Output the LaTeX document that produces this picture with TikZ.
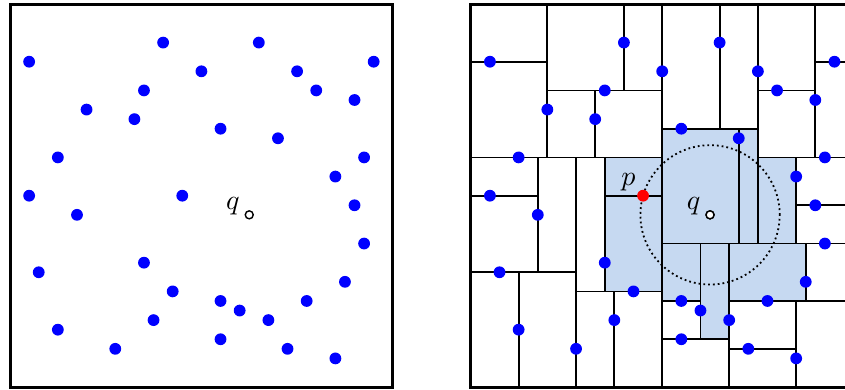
\documentclass[tikz,border=0pt]{standalone}
\usetikzlibrary{calc}
\definecolor{cellblue}{RGB}{198,217,241}
\definecolor{dotblue}{RGB}{0,0,255}
\begin{document}
\begin{tikzpicture}[x=9.57pt,y=-9.57pt,
  frame/.style={line width=3pt},
  cut/.style={line width=1.8pt},
  pt/.style={circle,fill=dotblue,inner sep=0pt,minimum size=11.8pt},
  ppt/.style={circle,fill=red,inner sep=0pt,minimum size=11.8pt},
  qpt/.style={circle,draw=black,fill=white,line width=1.4pt,inner sep=0pt,minimum size=8pt},
  lab/.style={anchor=base east,scale=2.8,inner sep=0pt},
  cell/.style={fill=cellblue},
  ball/.style={line width=1.8pt,dash pattern=on 1.8pt off 3pt}]
\fill[white] (-1.045,-0.449) rectangle (87.252,40.199);
\clip (-1.045,-0.449) rectangle (87.252,40.199);
% left panel
\begin{scope}
  \draw[frame] (0,0) rectangle (40,40);
  \foreach \n/\a/\b in {1/2/6,2/16/4,3/14/9,4/8/11,5/13/12,6/5/16,7/2/20,8/20/7,9/26/4,10/30/7,11/32/9,12/36/10,13/38/6,14/22/13,15/28/14,16/37/16,17/34/18,18/7/22,19/3/28,20/14/27,21/17/30,22/5/34,23/15/33,24/11/36,25/36/21,26/37/25,27/35/29,28/22/31,29/24/32,30/27/33,31/31/31,32/22/35,33/29/36,34/34/37,35/18/20}
    \node[pt] (L\n) at (\a,\b) {};
  \node[qpt] (Lq) at (25,22) {};
  \node[lab] (Lqlab) at ($(Lq)+(-9pt,5pt)$) {$q$};
\end{scope}
% right panel
\begin{scope}[shift={(48.15,0)}]
  \foreach \a/\b/\c/\d in {14/16/20/30,20/13/30/25,30/16/34/25,20/25/24/31,24/25/27/35,27/25/35/31}
    \fill[cell] (\a,\b) rectangle (\c,\d);
  \foreach \a/\b/\c/\d in {20/0/20/40,0/16/20/16,8/0/8/16,0/6/8/6,8/9/20/9,16/0/16/9,13/9/13/16,
      11/16/11/40,0/28/11/28,7/16/7/28,0/20/7/20,5/28/5/40,11/30/20/30,14/16/14/30,14/20/20/20,15/30/15/40,
      20/25/40/25,30/0/30/25,20/13/30/13,26/0/26/13,28/13/28/25,30/16/40/16,36/0/36/16,30/9/36/9,36/6/40/6,
      34/16/34/25,34/21/40/21,27/25/27/40,20/35/27/35,24/25/24/35,20/31/24/31,27/31/40/31,35/25/35/31,
      34/31/34/40,27/36/34/36}
    \draw[cut] (\a,\b) -- (\c,\d);
  \draw[frame] (0,0) rectangle (40,40);
  \node[qpt] (Rq) at (25,22) {};
  \draw[ball] (Rq.center) circle[radius=69.67pt];
  \node[qpt] at (Rq) {};
  \foreach \n/\a/\b in {1/2/6,2/16/4,3/14/9,4/8/11,5/13/12,6/5/16,7/2/20,8/20/7,9/26/4,10/30/7,11/32/9,12/36/10,13/38/6,14/22/13,15/28/14,16/37/16,17/34/18,18/7/22,19/3/28,20/14/27,21/17/30,22/5/34,23/15/33,24/11/36,25/36/21,26/37/25,27/35/29,28/22/31,29/24/32,30/27/33,31/31/31,32/22/35,33/29/36,34/34/37}
    \node[pt] (R\n) at (\a,\b) {};
  \node[ppt] (Rp) at (18,20) {};
  \node[lab] (Rqlab) at ($(Rq)+(-9pt,5pt)$) {$q$};
  \node[lab] (Rplab) at ($(Rp)+(-7pt,10pt)$) {$p$};
\end{scope}
\end{tikzpicture}
\end{document}
